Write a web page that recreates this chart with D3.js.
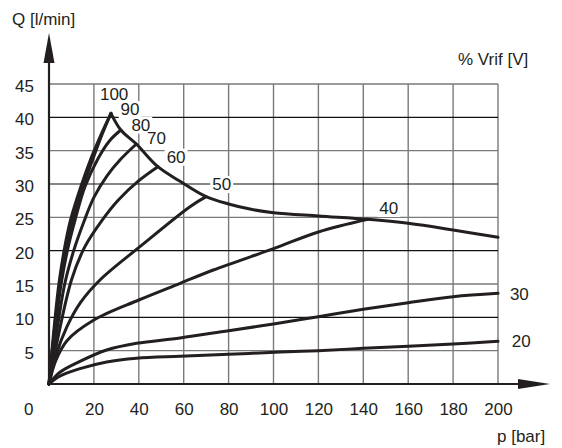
<!DOCTYPE html>
<html>
<head>
<meta charset="utf-8">
<script src="https://cdn.jsdelivr.net/npm/d3@7"></script>
<style>
  body { margin: 0; background: #fff; }
  svg text { font-family: "Liberation Sans", Arial, sans-serif; fill: #231f20; }
</style>
</head>
<body>
<div id="content"></div>
<script>
// ******* DATA *******
const xTicks = [20, 40, 60, 80, 100, 120, 140, 160, 180, 200];
const yTicks = [5, 10, 15, 20, 25, 30, 35, 40, 45];

// each curve: [p (bar), Q (l/min)]
const v100 = [[0, 0], [1.3, 5], [4.4, 15], [7, 20.5], [9.6, 24.6], [14.4, 29.8], [18.9, 34], [23.3, 37.5], [27.6, 40.6]];
const v90 = [[0, 0], [1.45, 5], [4.8, 15], [7.6, 20.5], [10.3, 24.4], [15.1, 29.6], [19.6, 33.8], [23.6, 37.4], [27.6, 40.6]];
const v80 = [[0, 0], [1.7, 5], [5.4, 15], [8.5, 20.5], [11.6, 24.6], [16, 29.6], [21.8, 33.8], [27, 36.5], [32, 38.1]];
const v70 = [[0, 0], [2.2, 5], [7.0, 15], [11, 20], [15.5, 24.3], [20, 28], [26, 31.3], [31.6, 33.6], [38.9, 36]];
const v60 = [[0, 0], [2.8, 5], [10, 15.6], [16, 20.6], [23.3, 24.4], [30.9, 27.6], [40, 30.5], [48.5, 32.6]];
const v50 = [[0, 0], [3, 4.2], [8, 8.6], [14, 12.2], [22.7, 15.6], [40.5, 20.6], [62.8, 26.6], [70, 28.1]];
const v40 = [[0, 0], [3, 3.5], [8, 6.5], [20, 9.6], [40, 12.6], [58.4, 15.1], [73.2, 17.1], [100, 20.3], [120, 22.8], [142, 24.7]];
const v30 = [[0, 0], [5, 1.8], [13.8, 3.4], [25.7, 5.1], [39, 6.1], [58.4, 6.9], [80, 8], [100, 9], [120, 10.1], [140, 11.2], [160, 12.2], [180, 13.1], [200, 13.6]];
const v20 = [[0, 0], [5, 1.2], [13.8, 2.3], [25.7, 3.3], [39, 3.85], [58.4, 4.15], [80, 4.45], [103, 4.8], [120, 5], [140, 5.35], [160, 5.65], [180, 6], [200, 6.4]];
// max flow envelope
const envelope = [[27.6, 40.6], [32, 38.1], [38.9, 36], [48.5, 32.6], [58.4, 30.4], [70, 28.1], [80, 27], [90, 26.2], [100, 25.7], [120, 25.2], [142, 24.7], [160, 24.1], [180, 23.1], [200, 22]];

const seriesNames = ["100", "90", "80", "70", "60", "50", "40", "30", "20"];
const seriesValues = [v100, v90, v80, v70, v60, v50, v40, v30, v20];

// ******* LAYOUT *******
// where each curve label sits, in chart units (left, baseline)
const labelAt = {
    "100": [22.7, 42.6], "90": [31.9, 40.35], "80": [36.7, 38.0], "70": [43.65, 35.95],
    "60": [52.4, 33.2], "50": [72.7, 29.1], "40": [147.1, 25.5], "30": [205.3, 12.6], "20": [206.1, 5.6]
};

const width = 562, height = 448;
const ink = "#231f20";

const svg = d3.select("#content").append("svg")
    .attr("width", width)
    .attr("height", height);

const x = d3.scaleLinear().domain([0, 200]).range([49, 498]);
const y = d3.scaleLinear().domain([0, 45]).range([384, 84]);

// grid
const grid = svg.append("g").attr("id", "grid");
grid.selectAll("line.v").data(xTicks).join("line")
    .attr("class", "v")
    .attr("x1", d => x(d)).attr("x2", d => x(d))
    .attr("y1", y(0)).attr("y2", y(45))
    .attr("stroke", "#7a7a7a").attr("stroke-width", 1.4);
grid.selectAll("line.h").data(yTicks).join("line")
    .attr("class", "h")
    .attr("x1", x(0)).attr("x2", x(200))
    .attr("y1", d => y(d)).attr("y2", d => y(d))
    .attr("stroke", d => d % 10 === 0 ? "#111" : "#7a7a7a")
    .attr("stroke-width", d => d % 10 === 0 ? 1.1 : 1.4);

// curve labels (white knockout behind)
const labels = svg.append("g").attr("id", "labels");
seriesNames.forEach(name => {
    const [lp, lq] = labelAt[name];
    const t = labels.append("text")
        .attr("x", x(lp)).attr("y", y(lq))
        .attr("font-size", 17)
        .text(name);
    const b = t.node().getBBox();
    labels.insert("rect", "text")
        .attr("x", b.x - 2).attr("y", b.y + 1)
        .attr("width", b.width + 4).attr("height", b.height - 2)
        .attr("fill", "#fff");
});

// curves
const line = d3.line()
    .x(d => x(d[0]))
    .y(d => y(d[1]))
    .curve(d3.curveCatmullRom.alpha(0.5));

svg.append("g").attr("id", "curves")
    .selectAll("path")
    .data(seriesValues.concat([envelope]))
    .join("path")
    .attr("d", line)
    .attr("fill", "none")
    .attr("stroke", ink)
    .attr("stroke-width", 3)
    .attr("stroke-linejoin", "round")
    .attr("stroke-linecap", "round");

// axes lines with arrows
const axisG = svg.append("g").attr("id", "axes");
axisG.append("line")
    .attr("x1", x(0)).attr("x2", x(0))
    .attr("y1", y(0) + 1).attr("y2", 60)
    .attr("stroke", ink).attr("stroke-width", 2.2);
axisG.append("path")
    .attr("d", `M${x(0)},33 L${x(0) - 5.5},63 L${x(0) + 5.5},63 Z`)
    .attr("fill", ink);
axisG.append("line")
    .attr("x1", x(0) - 1).attr("x2", 522)
    .attr("y1", y(0)).attr("y2", y(0))
    .attr("stroke", ink).attr("stroke-width", 2.2);
axisG.append("path")
    .attr("d", `M550,${y(0)} L518,${y(0) - 5} L518,${y(0) + 5} Z`)
    .attr("fill", ink);

// tick labels via d3 axes
const xAxis = svg.append("g")
    .attr("transform", `translate(0,${y(0)})`)
    .call(d3.axisBottom(x).tickValues(xTicks).tickSize(0).tickPadding(19).tickFormat(d3.format("d")));
const yAxis = svg.append("g")
    .attr("transform", `translate(${x(0)},0)`)
    .call(d3.axisLeft(y).tickValues(yTicks).tickSize(0).tickPadding(15).tickFormat(d3.format("d")));
[xAxis, yAxis].forEach(a => {
    a.select(".domain").remove();
    a.selectAll("text")
        .attr("font-size", 17)
        .attr("font-family", "'Liberation Sans', Arial, sans-serif")
        .attr("fill", ink);
});
yAxis.selectAll("text").attr("dy", "0.44em");

// origin label and axis titles
svg.append("text").attr("x", 28.7).attr("y", 415)
    .attr("text-anchor", "middle").attr("font-size", 17).text("0");
svg.append("text").attr("x", 12).attr("y", 25)
    .attr("font-size", 17).text("Q [l/min]");
svg.append("text").attr("x", 458).attr("y", 64.5)
    .attr("font-size", 17).text("% Vrif [V]");
svg.append("text").attr("x", 497).attr("y", 442)
    .attr("font-size", 17).text("p [bar]");
</script>
</body>
</html>
